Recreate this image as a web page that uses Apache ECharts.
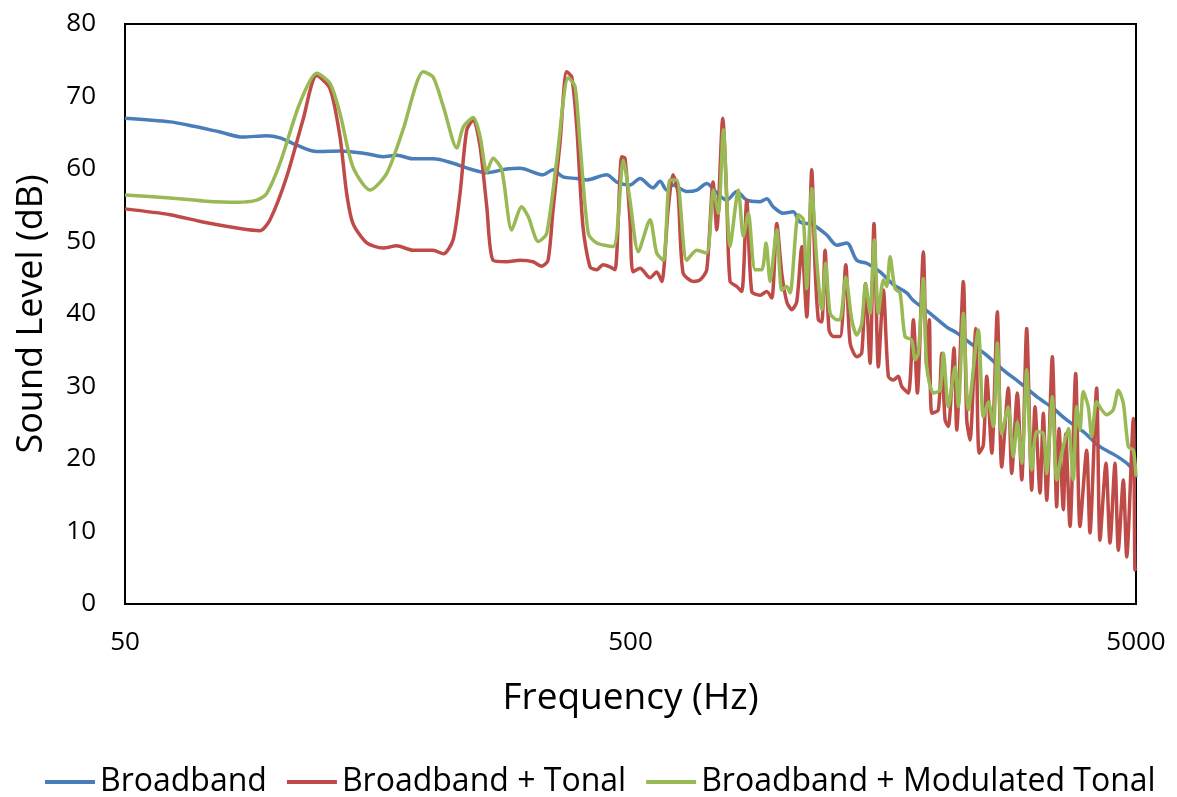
<!DOCTYPE html>
<html>
<head>
<meta charset="utf-8">
<script src="https://cdn.jsdelivr.net/npm/echarts@6/dist/echarts.min.js"></script>
<style>
html,body{margin:0;padding:0;background:#fff;}
#chart{width:1177px;height:797px;}
</style>
</head>
<body>
<div id="chart"></div>
<script>
// ---- Data ----
const seriesNames = ["Broadband", "Broadband + Tonal", "Broadband + Modulated Tonal"];
const xTickLabels = [50, 500, 5000];

const bbFreq = [50,61.4,66.2,77.1,85.6,95.3,101.3,109.3,119.7,133.1,150.4,161.9,172.4,185.6,203.4,222.8,240.7,259.8,284.5,302.2,335.6,351.3,367.7,391.4,409.6,448.6,469.6,498.8,522.1,553.9,572,589.7,606.9,645.9,676.1,707.7,740.7,775.2,811.3,849.1,902.2,930,957.2,1001.9,1048.5,1082.4,1148.4,1222.4,1279.6,1339.1,1401.6,1466.8,1558.7,1653,1759.7,1811,1956.8,2111.2,2209.6,2347.8,2533.7,2728.4,2948,3180.5,3426.1,3646.7,3927,4243.6,4579.2,4864.9,5000];
const bbLevel = [67.0,66.5,66.1,65.1,64.4,64.6,64.3,63.3,62.4,62.5,62.1,61.7,61.9,61.4,61.4,60.8,60.0,59.5,60.0,60.1,59.2,59.9,58.9,58.7,58.5,59.2,58.2,57.8,58.7,57.4,58.3,57.1,57.8,56.9,57.1,58.0,56.7,55.7,56.9,55.7,55.5,55.9,54.8,53.9,54.1,52.7,52.3,50.9,49.5,49.8,47.4,47.0,45.8,44.1,42.9,41.9,40.1,38.2,37.4,36.0,34.3,32.3,30.5,28.6,27.0,25.4,23.8,21.7,20.4,19.0,17.4];

const tonFreq = [50,61.4,71.3,84.4,92.5,96.8,104.4,112.5,119.7,127.2,133.1,137.2,141.2,150.4,161.9,172.4,185.6,203.4,213.2,222.8,230,237.2,244.4,252,259.8,267.3,284.5,302.2,320.7,333.6,343.4,351.3,362.7,373.9,382.6,391.4,402.7,415.8,428.7,441.2,455.4,465.9,480.4,487.6,498.8,505.7,522.1,546.5,563.4,576.4,593.3,606.9,620.8,635.1,664.8,686.4,707.7,728.3,740.7,761.2,775.2,786.9,811.3,830,849.1,868.5,902.2,930,951.6,973.5,995.9,1018.8,1042.3,1066.3,1090.9,1116,1141.7,1158.9,1176.4,1194.7,1213,1235,1258,1298.6,1333,1359.5,1401.6,1433.4,1458.6,1488.9,1516,1546.5,1582.1,1618.2,1655,1693.4,1720,1772.4,1814,1846.7,1897.9,1927.3,1950.6,1972,2032.2,2063.7,2095.2,2126.8,2182.7,2209.6,2277.4,2312.9,2347.8,2409.6,2446,2494,2533.7,2592.2,2658.4,2712.1,2795.1,2838.6,2912,2971.2,3039.1,3109.2,3156.2,3229.2,3278.2,3329.1,3415.4,3484.4,3521.3,3591,3630.2,3701.6,3798.9,3874,3993.4,4053.9,4179.1,4243.6,4361,4441.5,4543.8,4613.2,4719.3,4792.6,4939.1,4977,5000];
const tonLevel = [54.5,53.7,52.7,51.8,51.5,53.0,58.9,66.8,72.9,71.1,64.5,56.7,52.5,49.8,49.1,49.4,48.8,48.8,48.3,50.2,56.6,65.4,66.8,63.1,54.8,47.4,47.2,47.4,47.2,46.6,47.4,54.3,63.6,73.4,72.7,65.8,52.0,46.5,46.1,46.8,46.5,46.1,61.7,61.5,53.0,45.8,46.3,45.0,45.8,44.5,54.3,59.2,56.7,45.7,44.5,44.7,46.1,58.2,51.6,67.0,55.7,44.5,43.8,43.1,55.7,43.1,42.6,43.1,42.2,52.5,45.6,41.7,40.6,41.7,49.3,39.6,59.9,46.5,39.2,38.9,48.8,37.8,36.9,36.9,46.8,36.0,34.1,34.6,44.2,33.2,52.5,32.7,43.3,31.4,30.9,31.4,30.0,29.1,39.2,29.1,48.6,32.7,39.2,26.3,26.8,34.6,25.4,24.5,35.3,24.0,44.5,25.4,22.6,38.0,20.8,21.9,31.4,20.8,40.3,18.9,29.8,18.0,29.1,17.1,38.0,15.7,27.2,15.3,26.3,14.3,34.1,13.4,24.2,13.0,23.5,10.7,31.8,10.7,21.2,9.8,29.8,8.8,19.4,8.4,19.4,7.4,17.1,6.5,25.6,4.7,5.0];

const modFreq = [50,61.4,71.3,83.2,91.1,95.3,101.3,110.9,119.7,127.2,133.1,141.2,152.7,164.7,177.4,194.6,203.4,213.2,226.6,233.5,244.4,252,259.8,267.3,278.1,291.1,304.6,313.9,328.5,341.3,357.3,376.7,388.3,397.3,412.6,428.7,462.3,483.9,498.8,518.1,546.5,563.4,580.7,598.6,617.2,645.9,676.1,707.7,729.3,746.1,763.3,786.9,817.1,835.9,855.2,881.8,909.2,927.2,944.2,973.5,995.9,1018.8,1034.2,1074.2,1098.8,1116,1141.7,1167.7,1194.7,1216.9,1241.1,1279.6,1298.6,1333,1370.1,1401.6,1433.4,1458.6,1488.9,1518,1546.5,1582.1,1606.5,1630.9,1668.1,1706.6,1746.1,1800.1,1827.7,1855.2,1897.9,1927.3,1986.2,2048.1,2079,2126.8,2192.4,2226,2277.4,2329.6,2438.2,2494.3,2552,2610.7,2658.4,2712.1,2795.1,2858.4,2912,2971.2,3039.1,3109.2,3180.5,3278.2,3329.1,3415.4,3484.4,3564.7,3673.7,3757.6,3815.9,3874,3932,4022.4,4085.7,4179.1,4276.1,4375,4508.5,4613.2,4719.3,4827.8,4939.1,5000];
const modLevel = [56.4,56.0,55.6,55.4,55.7,56.6,60.8,69.1,73.2,71.8,67.7,60.3,57.1,59.4,65.4,73.4,72.7,68.6,62.9,65.8,67.1,64.5,59.6,61.5,59.9,51.6,54.8,53.4,50.0,51.1,61.2,72.6,71.4,63.5,51.1,49.8,49.3,61.2,55.7,48.6,53.0,48.4,47.4,58.5,58.5,47.4,48.8,48.4,57.1,53.9,65.4,49.3,57.1,50.7,53.9,46.1,46.1,49.8,44.5,51.6,43.3,43.8,42.9,53.7,53.0,43.5,57.3,47.4,40.6,47.0,40.1,39.2,39.2,45.1,39.2,37.1,38.7,44.2,40.1,50.2,40.1,44.7,43.8,47.9,43.5,42.9,36.9,36.4,33.7,34.6,44.9,32.7,29.1,29.5,34.6,27.2,32.7,27.2,40.1,26.8,37.8,25.8,27.9,24.5,36.0,23.5,27.2,20.3,25.1,19.4,32.3,18.5,23.8,23.5,18.0,28.6,17.1,20.8,24.2,17.1,27.2,24.0,29.3,27.2,23.1,27.9,26.8,26.1,26.8,29.5,27.7,21.7,21.2,17.6];

// ---- Build chart ----
const zip = (f, v) => f.map((x, i) => [x, v[i]]);
const FONT = '"Open Sans", Carlito, Calibri, sans-serif';
const colors = ['#4A7EBB', '#BE4B48', '#98B954'];

const chart = echarts.init(document.getElementById('chart'), null, {renderer: 'canvas'});
chart.setOption({
  animation: false,
  color: colors,
  textStyle: {fontFamily: FONT, color: '#000'},
  grid: {left: 125, right: 41, top: 24, bottom: 193, containLabel: false, show: true, borderColor: '#000', borderWidth: 2, backgroundColor: 'transparent'},
  legend: {
    top: 761, left: 40,
    icon: 'rect', itemWidth: 50, itemHeight: 4, itemGap: 20,
    textStyle: {fontFamily: FONT, fontSize: 32, color: '#000', padding: [0, 0, 0, 0]},
    data: seriesNames
  },
  xAxis: {
    type: 'log', logBase: 10, min: 50, max: 5000,
    name: 'Frequency (Hz)', nameLocation: 'middle', nameGap: 76,
    nameTextStyle: {fontFamily: FONT, fontSize: 37, color: '#000'},
    axisLine: {show: true, lineStyle: {color: '#000', width: 2}},
    axisTick: {show: false},
    splitLine: {show: false},
    minorTick: {show: false}, minorSplitLine: {show: false},
    axisLabel: {customValues: xTickLabels, fontFamily: FONT, fontSize: 26, color: '#000', margin: 26, formatter: v => String(Math.round(v))}
  },
  yAxis: {
    type: 'value', min: 0, max: 80, interval: 10,
    name: 'Sound Level (dB)', nameLocation: 'middle', nameGap: 75, nameRotate: 90,
    nameTextStyle: {fontFamily: FONT, fontSize: 36, color: '#000'},
    axisLine: {show: true, lineStyle: {color: '#000', width: 2}},
    axisTick: {show: false},
    splitLine: {show: false},
    axisLabel: {fontFamily: FONT, fontSize: 26, color: '#000', margin: 29}
  },
  series: [
    {name: seriesNames[0], type: 'line', data: zip(bbFreq, bbLevel), showSymbol: false, symbol: 'none', smooth: 0.3, lineStyle: {width: 3.5}, z: 2},
    {name: seriesNames[1], type: 'line', data: zip(tonFreq, tonLevel), showSymbol: false, symbol: 'none', smooth: 0.25, lineStyle: {width: 3.5}, z: 3},
    {name: seriesNames[2], type: 'line', data: zip(modFreq, modLevel), showSymbol: false, symbol: 'none', smooth: 0.25, lineStyle: {width: 3.5}, z: 4}
  ]
});
</script>
</body>
</html>
